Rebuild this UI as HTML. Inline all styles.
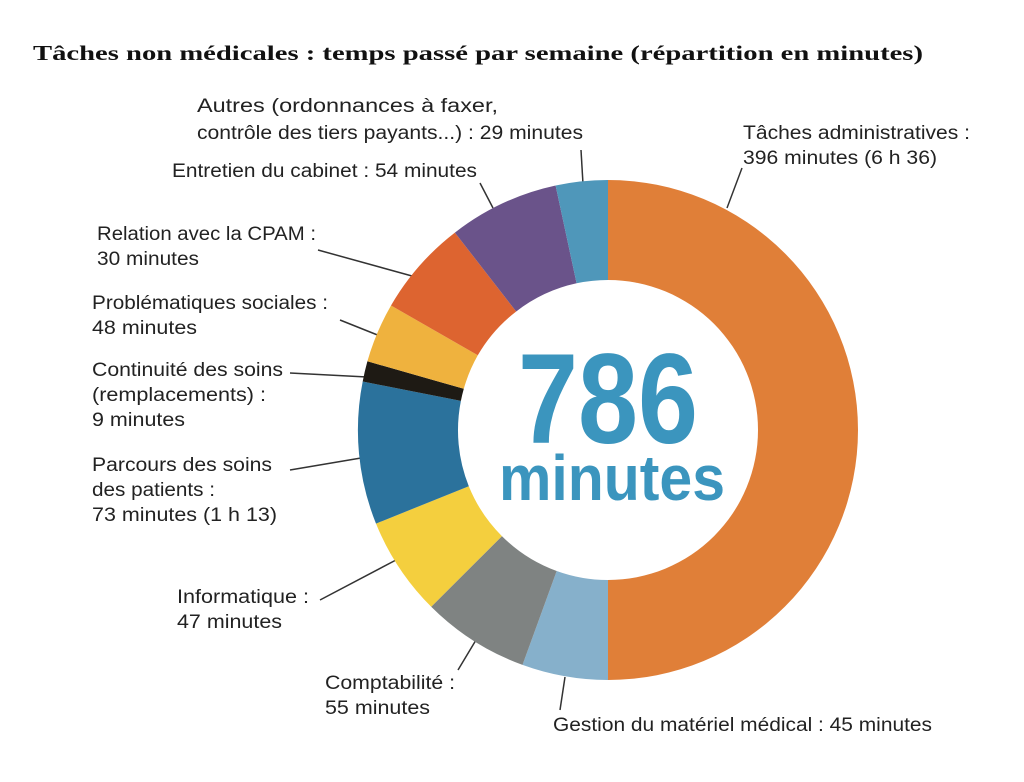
<!DOCTYPE html>
<html><head><meta charset="utf-8"><style>
body{margin:0;background:#fff;}
svg{display:block}
.l{font-family:"Liberation Sans",sans-serif;font-size:19px;fill:#222;}
</style></head><body>
<svg width="1024" height="782" viewBox="0 0 1024 782" xmlns="http://www.w3.org/2000/svg">
<text x="33" y="60" font-family="Liberation Serif,serif" font-weight="bold" font-size="21" fill="#111" textLength="890" lengthAdjust="spacingAndGlyphs">Tâches non médicales : temps passé par semaine (répartition en minutes)</text>
<g id="d"></g>
<g stroke="#333" stroke-width="1.5">
<line x1="581" y1="150" x2="583" y2="184"/>
<line x1="742" y1="168" x2="727" y2="208"/>
<line x1="480" y1="183" x2="493" y2="208"/>
<line x1="318" y1="250" x2="412" y2="276"/>
<line x1="340" y1="320" x2="380" y2="336"/>
<line x1="290" y1="373" x2="367" y2="377"/>
<line x1="290" y1="470" x2="361" y2="458"/>
<line x1="320" y1="600" x2="396" y2="560"/>
<line x1="458" y1="670" x2="476" y2="640"/>
<line x1="560" y1="710" x2="565" y2="677"/>
</g>
<text x="608" y="443" text-anchor="middle" font-family="Liberation Sans,sans-serif" font-weight="bold" font-size="128" fill="#3B95BE" textLength="180" lengthAdjust="spacingAndGlyphs">786</text>
<text x="612" y="500" text-anchor="middle" font-family="Liberation Sans,sans-serif" font-weight="bold" font-size="64" fill="#3B95BE" textLength="226" lengthAdjust="spacingAndGlyphs">minutes</text>
<g class="l" style="font-family:'Liberation Sans',sans-serif;font-size:19px;fill:#222">
<text x="197" y="112" textLength="301" lengthAdjust="spacingAndGlyphs">Autres (ordonnances à faxer,</text>
<text x="197" y="139" textLength="386" lengthAdjust="spacingAndGlyphs">contrôle des tiers payants...) : 29 minutes</text>
<text x="743" y="139" textLength="227" lengthAdjust="spacingAndGlyphs">Tâches administratives :</text>
<text x="743" y="164" textLength="194" lengthAdjust="spacingAndGlyphs">396 minutes (6 h 36)</text>
<text x="172" y="177" textLength="305" lengthAdjust="spacingAndGlyphs">Entretien du cabinet : 54 minutes</text>
<text x="97" y="240" textLength="219" lengthAdjust="spacingAndGlyphs">Relation avec la CPAM :</text>
<text x="97" y="265" textLength="102" lengthAdjust="spacingAndGlyphs">30 minutes</text>
<text x="92" y="309" textLength="236" lengthAdjust="spacingAndGlyphs">Problématiques sociales :</text>
<text x="92" y="334" textLength="105" lengthAdjust="spacingAndGlyphs">48 minutes</text>
<text x="92" y="376" textLength="191" lengthAdjust="spacingAndGlyphs">Continuité des soins</text>
<text x="92" y="401" textLength="174" lengthAdjust="spacingAndGlyphs">(remplacements) :</text>
<text x="92" y="426" textLength="93" lengthAdjust="spacingAndGlyphs">9 minutes</text>
<text x="92" y="471" textLength="180" lengthAdjust="spacingAndGlyphs">Parcours des soins</text>
<text x="92" y="496" textLength="123" lengthAdjust="spacingAndGlyphs">des patients :</text>
<text x="92" y="521" textLength="185" lengthAdjust="spacingAndGlyphs">73 minutes (1 h 13)</text>
<text x="177" y="603" textLength="132" lengthAdjust="spacingAndGlyphs">Informatique :</text>
<text x="177" y="628" textLength="105" lengthAdjust="spacingAndGlyphs">47 minutes</text>
<text x="325" y="689" textLength="130" lengthAdjust="spacingAndGlyphs">Comptabilité :</text>
<text x="325" y="714" textLength="105" lengthAdjust="spacingAndGlyphs">55 minutes</text>
<text x="553" y="731" textLength="379" lengthAdjust="spacingAndGlyphs">Gestion du matériel médical : 45 minutes</text>
</g>
<!-- donut segments -->
<path d="M608,180 A250,250 0 0 1 608,680 L608,580 A150,150 0 0 0 608,280 Z" fill="#E07F38"/>
<path d="M608.0,680.0 A250,250 0 0 1 522.5,664.9 L556.7,571.0 A150,150 0 0 0 608.0,580.0 Z" fill="#86B0CB"/>
<path d="M522.5,664.9 A250,250 0 0 1 431.2,606.8 L501.9,536.1 A150,150 0 0 0 556.7,571.0 Z" fill="#7F8382"/>
<path d="M431.2,606.8 A250,250 0 0 1 376.0,523.6 L468.8,486.2 A150,150 0 0 0 501.9,536.1 Z" fill="#F4CF3E"/>
<path d="M376.0,523.6 A250,250 0 0 1 362.7,381.5 L460.9,400.9 A150,150 0 0 0 468.8,486.2 Z" fill="#2B729C"/>
<path d="M362.7,381.5 A250,250 0 0 1 367.4,361.3 L463.8,388.8 A150,150 0 0 0 460.9,400.9 Z" fill="#1E1A14"/>
<path d="M367.4,361.3 A250,250 0 0 1 391.0,305.5 L477.8,355.3 A150,150 0 0 0 463.8,388.8 Z" fill="#EFB23E"/>
<path d="M391.0,305.5 A250,250 0 0 1 454.9,232.6 L516.2,311.5 A150,150 0 0 0 477.8,355.3 Z" fill="#DD6430"/>
<path d="M454.9,232.6 A250,250 0 0 1 555.6,185.5 L576.6,283.3 A150,150 0 0 0 516.2,311.5 Z" fill="#6A538A"/>
<path d="M555.6,185.5 A250,250 0 0 1 608,180 L608,280 A150,150 0 0 0 576.6,283.3 Z" fill="#4F97BA"/>
</svg>
</body></html>
